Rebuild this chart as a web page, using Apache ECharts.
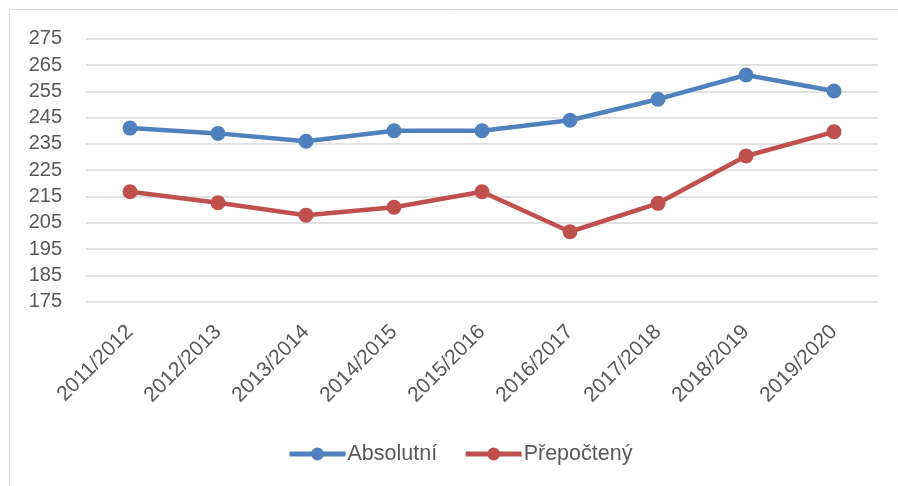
<!DOCTYPE html>
<html>
<head>
<meta charset="utf-8">
<script src="https://cdn.jsdelivr.net/npm/echarts@6/dist/echarts.min.js"></script>
<style>html,body{margin:0;padding:0;background:#fff}#c{width:898px;height:486px}</style>
</head>
<body>
<div id="c"></div>
<script>
const categories = ['2011/2012','2012/2013','2013/2014','2014/2015','2015/2016','2016/2017','2017/2018','2018/2019','2019/2020'];
const absolutni = [241, 239, 236, 240, 240, 244, 252, 261.2, 255.1];
const prepocteny = [216.8, 212.6, 207.9, 210.9, 216.8, 201.6, 212.4, 230.4, 239.6];
const seriesNames = ['Absolutní', 'Přepočtený'];
const FONT = '"Liberation Sans", Arial, sans-serif';

const chart = echarts.init(document.getElementById('c'), null, {renderer: 'canvas'});
chart.setOption({
  animation: false,
  backgroundColor: '#fff',
  graphic: [{
    type: 'rect', z: -1,
    shape: {x: 9.5, y: 9.5, width: 900, height: 490},
    style: {fill: 'none', stroke: '#d9d9d9', lineWidth: 1}
  }],
  grid: {left: 86, right: 20, top: 38.7, bottom: 184.3, containLabel: false},
  legend: {
    top: 438, left: 282,
    itemWidth: 56, itemHeight: 16, itemGap: 26,
    lineStyle: {width: 5},
    textStyle: {fontFamily: FONT, fontSize: 21.5, color: '#595959', padding: [0, 0, 0, -3]},
    data: seriesNames
  },
  xAxis: {
    type: 'category', data: categories, boundaryGap: true,
    axisLine: {show: false}, axisTick: {show: false},
    axisLabel: {rotate: 45, fontFamily: FONT, fontSize: 21, color: '#595959', margin: 27, interval: 0}
  },
  yAxis: {
    type: 'value', min: 175, max: 275, interval: 10,
    axisLine: {show: false}, axisTick: {show: false},
    axisLabel: {fontFamily: FONT, fontSize: 20, color: '#595959', margin: 24},
    splitLine: {lineStyle: {color: '#d9d9d9', width: 1.5}}
  },
  series: [
    {name: seriesNames[0], type: 'line', data: absolutni, color: '#4F81BD',
     symbol: 'circle', symbolSize: 15, lineStyle: {width: 4.5, color: '#4F81BD'}, itemStyle: {color: '#4F81BD'}},
    {name: seriesNames[1], type: 'line', data: prepocteny, color: '#C0504D',
     symbol: 'circle', symbolSize: 15, lineStyle: {width: 4.5, color: '#C0504D'}, itemStyle: {color: '#C0504D'}}
  ]
});
</script>
</body>
</html>
